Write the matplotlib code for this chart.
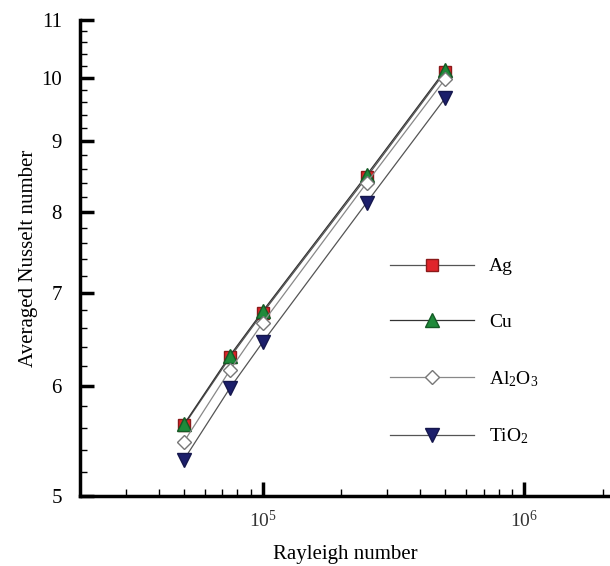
import matplotlib
matplotlib.use("Agg")
import matplotlib.pyplot as plt
from matplotlib.ticker import MultipleLocator, NullFormatter, LogLocator, FormatStrFormatter

plt.rcParams['font.family'] = ['Liberation Serif', 'DejaVu Serif']
plt.rcParams['mathtext.fontset'] = 'custom'
plt.rcParams['mathtext.rm'] = 'Liberation Serif'
plt.rcParams['mathtext.it'] = 'Liberation Serif:italic'

# data
rayleigh = [5e4, 7.5e4, 1e5, 2.5e5, 5e5]
nu_ag = [5.62, 6.29, 6.77, 8.48, 10.10]
nu_cu = [5.63, 6.31, 6.79, 8.51, 10.13]
nu_al2o3 = [5.47, 6.16, 6.66, 8.40, 9.98]
nu_tio2 = [5.31, 5.98, 6.45, 8.13, 9.67]

labels = ['Ag', 'Cu', 'Al$_2$O$_3$', 'TiO$_2$']
series = [nu_ag, nu_cu, nu_al2o3, nu_tio2]
markers = ['s', '^', 'D', 'v']
faces = ['#e0242a', '#1f8a3a', 'white', '#1c1f6b']
edges = ['#8a1a1a', '#145a25', '#777777', '#15174d']
sizes = [9, 10, 7, 10]
linecols = ['#555555', '#333333', '#888888', '#555555']

fig = plt.figure(figsize=(6.1, 5.66), dpi=100)
ax = fig.add_axes([0.131, 0.1237, 0.869, 0.841])

for y, lab, m, fc, ec, ms, lc in zip(series, labels, markers, faces, edges, sizes, linecols):
    ax.plot(rayleigh, y, color=lc, lw=0.9, marker=m, markerfacecolor=fc,
            markeredgecolor=ec, markersize=ms, markeredgewidth=1.0, label=lab)

ax.set_xscale('log')
ax.set_yscale('log')
ax.set_xlim(2e4, 2.13e6)
ax.set_ylim(5, 11)

ax.yaxis.set_major_locator(MultipleLocator(1))
ax.yaxis.set_minor_locator(MultipleLocator(0.2))
ax.yaxis.set_major_formatter(FormatStrFormatter('%d'))
ax.yaxis.set_minor_formatter(NullFormatter())
ax.xaxis.set_major_locator(LogLocator(base=10))
ax.xaxis.set_minor_locator(LogLocator(base=10, subs=range(2, 10)))
ax.xaxis.set_minor_formatter(NullFormatter())

for s in ['top', 'right']:
    ax.spines[s].set_visible(False)
for s in ['left', 'bottom']:
    ax.spines[s].set_linewidth(2.5)

ax.tick_params(which='major', direction='in', length=10, width=2.5, labelsize=15, pad=8)
ax.tick_params(axis='y', which='major', pad=13)
ax.tick_params(which='minor', direction='in', length=5, width=1)
ax.tick_params(axis='x', which='major', labelsize=14, labelcolor='#333333', pad=10)

ax.set_xlabel('Rayleigh number', fontsize=15, labelpad=10)
ax.set_ylabel('Averaged Nusselt number', fontsize=15, labelpad=2)

ax.legend(loc='center left', bbox_to_anchor=(0.585, 0.3025), frameon=False,
          fontsize=14, numpoints=1, handlelength=4.3, handletextpad=0.8,
          labelspacing=1.95, borderaxespad=0, borderpad=0)

fig.savefig('out.png', dpi=100)
